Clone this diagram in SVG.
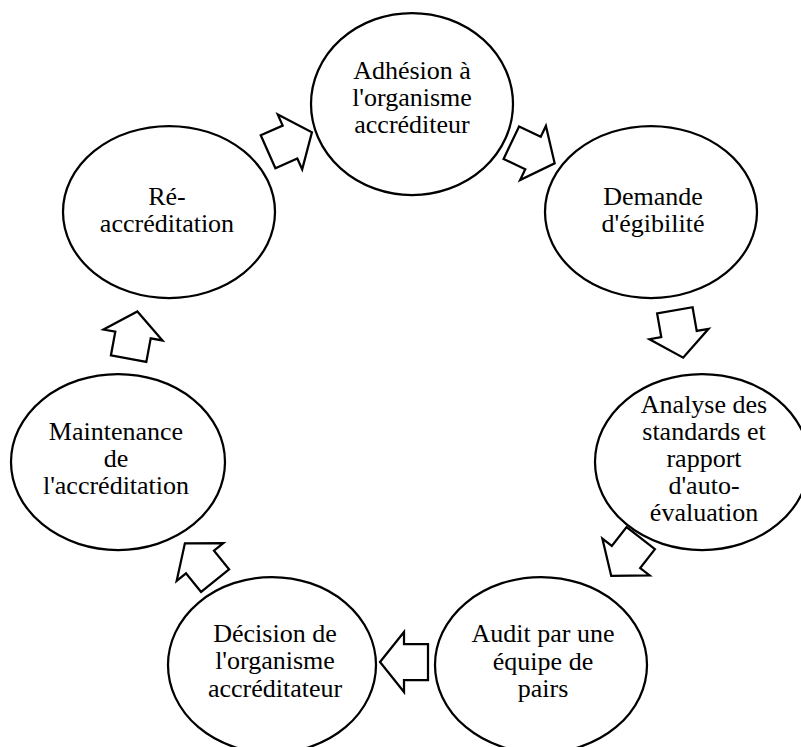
<svg xmlns="http://www.w3.org/2000/svg" width="801" height="747" viewBox="0 0 801 747">
<defs>
<style>
.n{fill:#fff;stroke:#000;stroke-width:2.25}
.t{font-family:"Liberation Serif","Times New Roman",serif;font-size:26px;fill:#000;text-anchor:middle}
.a{fill:#fff;stroke:#000;stroke-width:2.25;stroke-linejoin:miter}
</style>
<path id="arr" d="M-24,-18 L0,-18 L0,-30 L24,0 L0,30 L0,18 L-24,18 Z"/>
</defs>
<rect width="801" height="747" fill="#fff"/>
<g id="n1"><ellipse class="n" cx="412" cy="104" rx="101" ry="91"/>
<text class="t" x="412" y="79">Adhésion à</text><text class="t" x="412" y="106">l'organisme</text><text class="t" x="412" y="133">accréditeur</text></g>
<g id="n2"><ellipse class="n" cx="651" cy="212" rx="106" ry="86"/>
<text class="t" x="653" y="205">Demande</text><text class="t" x="653" y="232">d'égibilité</text></g>
<g id="n3"><ellipse class="n" cx="702" cy="462" rx="107" ry="88"/>
<text class="t" x="704" y="413">Analyse des</text><text class="t" x="704" y="440">standards et</text><text class="t" x="704" y="467">rapport</text><text class="t" x="704" y="494">d'auto-</text><text class="t" x="704" y="521">évaluation</text></g>
<g id="n4"><ellipse class="n" cx="541" cy="665" rx="106" ry="88"/>
<text class="t" x="543" y="642">Audit par une</text><text class="t" x="543" y="670">équipe de</text><text class="t" x="543" y="697">pairs</text></g>
<g id="n5"><ellipse class="n" cx="272" cy="665" rx="104" ry="88"/>
<text class="t" x="275" y="642">Décision de</text><text class="t" x="275" y="669">l'organisme</text><text class="t" x="275" y="697">accréditateur</text></g>
<g id="n6"><ellipse class="n" cx="118" cy="462" rx="107" ry="88"/>
<text class="t" x="116" y="440">Maintenance</text><text class="t" x="116" y="467">de</text><text class="t" x="116" y="494">l'accréditation</text></g>
<g id="n7"><ellipse class="n" cx="169" cy="212" rx="106" ry="86"/>
<text class="t" x="167" y="205">Ré-</text><text class="t" x="167" y="232">accréditation</text></g>
<g id="connectors">
<use href="#arr" class="a" transform="translate(290,142) rotate(-24)"/>
<use href="#arr" class="a" transform="translate(533,153) rotate(25.5)"/>
<use href="#arr" class="a" transform="translate(679,334) rotate(80)"/>
<use href="#arr" class="a" transform="translate(626,557) rotate(128)"/>
<use href="#arr" class="a" transform="translate(404,662) rotate(180)"/>
<use href="#arr" class="a" transform="translate(200,562) rotate(231)"/>
<use href="#arr" class="a" transform="translate(133,335) rotate(-79.5)"/>
</g>
</svg>
